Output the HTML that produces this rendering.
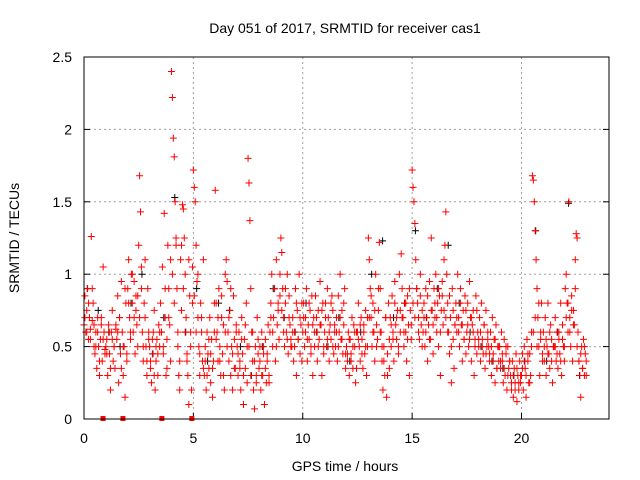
<!DOCTYPE html>
<html><head><meta charset="utf-8"><style>
html,body{margin:0;padding:0;background:#fff}
svg{display:block;font-family:"Liberation Sans",sans-serif}
</style></head><body>
<svg id="chart" width="640" height="480" viewBox="0 0 640 480">
<text x="345" y="33" font-size="14" text-anchor="middle" fill="#000">Day 051 of 2017, SRMTID for receiver cas1</text>
<text x="345" y="471" font-size="14" text-anchor="middle" fill="#000">GPS time / hours</text>
<text transform="translate(19,238) rotate(-90)" font-size="14" text-anchor="middle" fill="#000">SRMTID / TECUs</text>
<g id="grid"></g>
<g id="ticks"></g>
<g id="black"></g>
<g id="red"></g>
<rect x="84" y="57" width="525" height="362" fill="none" stroke="#000" stroke-width="1"/>
</svg>
<script>
const xTicks=[0,5,10,15,20];
const yTicks=[0,0.5,1,1.5,2,2.5];
const yTickLabels=["0","0.5","1","1.5","2","2.5"];
const redStart=0, redEnd=23;
const redValues=[
0.65,0.85,0.6,0.75,0.9,0.55,0.7,0.62,1.26,0.68,0.8,0.5,
0.45,0.6,0.35,0.7,0.5,0.3,0.55,0.65,0.4,1.05,0.6,0.48,
0.5,0.55,0.3,0.65,0.45,0.2,0.6,0.75,0.4,0.5,0.35,0.62,
0.55,0.85,0.25,0.7,0.45,0.95,0.6,0.3,0.5,0.15,0.8,0.4,
0.9,1.1,0.7,0.55,1.0,0.8,0.6,0.95,0.45,0.75,0.65,0.85,
1.2,1.68,1.43,1.05,0.6,0.4,0.8,0.7,0.5,0.3,0.9,0.55,
0.5,0.35,0.25,0.45,0.6,0.75,0.2,0.4,0.55,0.3,0.65,0.5,
0.8,0.6,1.05,0.45,1.42,0.7,0.3,0.55,1.2,0.9,0.65,0.4,
2.4,2.22,1.94,1.81,1.5,1.2,0.9,0.6,0.3,0.2,1.1,0.75,
1.48,1.45,1.25,1.0,0.7,0.45,0.3,0.1,0.85,0.6,0.2,1.05,
1.72,1.6,1.5,1.2,0.95,0.7,0.5,0.3,0.8,0.6,0.4,1.1,
0.3,0.5,0.2,0.6,0.45,0.35,0.7,0.25,0.55,0.15,0.4,0.8,
1.58,0.8,0.6,0.4,0.9,0.5,0.3,0.7,0.45,0.65,0.2,1.0,
1.1,0.95,0.6,0.4,0.75,0.3,0.5,0.2,0.85,0.55,0.35,0.65,
0.5,0.3,0.6,0.4,0.2,0.7,0.45,0.1,0.55,0.35,0.8,0.25,
1.8,1.63,1.37,0.9,0.6,0.4,0.2,0.07,0.5,0.3,0.7,0.45,
0.35,0.5,0.2,0.6,0.3,0.45,0.1,0.55,0.25,0.4,0.65,0.3,
0.6,0.8,1.0,0.5,0.7,0.9,0.4,1.1,0.65,0.75,0.55,0.85,
1.25,1.15,0.9,0.7,0.5,0.8,0.6,1.0,0.45,0.85,0.65,0.55,
0.5,0.7,0.4,0.6,0.9,0.3,0.75,0.55,1.0,0.45,0.65,0.8,
0.6,0.8,0.5,0.7,0.9,0.4,0.65,0.55,0.75,0.45,0.85,0.3,
0.7,0.5,0.85,0.6,0.4,0.75,0.55,0.95,0.65,0.3,0.8,0.5,
0.6,0.8,0.5,0.9,0.7,0.4,0.65,0.55,0.85,0.75,0.45,0.6,
0.5,0.7,0.4,0.85,0.6,1.0,0.55,0.75,0.45,0.65,0.9,0.35,
0.5,0.4,0.6,0.3,0.55,0.45,0.7,0.35,0.65,0.5,0.25,0.6,
0.6,0.8,0.5,0.4,0.7,0.55,0.35,0.65,0.45,0.75,0.3,0.5,
1.25,1.1,0.9,0.7,0.5,0.8,0.6,0.4,1.0,0.65,0.55,0.75,
1.22,0.9,0.6,0.4,0.2,0.5,0.3,0.7,0.15,0.45,0.8,0.35,
0.7,0.5,0.85,0.6,0.4,0.95,0.65,0.55,0.75,0.45,1.0,0.6,
1.14,0.9,0.7,0.5,0.8,0.6,0.4,0.85,0.65,0.3,0.75,0.55,
1.72,1.6,1.5,1.35,1.1,0.9,0.8,0.7,0.55,0.85,0.65,0.5,
0.6,0.8,0.5,0.9,0.7,0.4,0.65,0.95,0.55,1.25,0.75,0.45,
0.9,0.7,1.0,0.6,0.8,0.5,0.85,0.3,0.75,0.95,0.65,1.1,
1.2,1.43,1.0,0.8,0.6,0.45,0.7,0.25,0.9,0.55,0.35,0.65,
0.8,0.6,1.0,0.7,0.5,0.9,0.65,0.4,0.75,0.55,0.85,0.45,
0.6,0.8,0.5,0.95,0.7,0.4,0.65,0.75,0.3,0.55,0.85,0.45,
0.6,0.5,0.7,0.4,0.8,0.55,0.45,0.65,0.35,0.75,0.5,0.6,
0.5,0.4,0.6,0.3,0.7,0.45,0.55,0.25,0.65,0.35,0.5,0.4,
0.5,0.35,0.6,0.4,0.25,0.55,0.3,0.45,0.2,0.5,0.35,0.4,
0.3,0.2,0.4,0.15,0.35,0.25,0.45,0.12,0.3,0.2,0.4,0.25,
0.3,0.45,0.2,0.5,0.35,0.15,0.55,0.4,0.25,0.45,0.3,0.6,
1.68,1.65,1.5,1.3,1.1,0.9,0.7,0.5,0.3,0.6,0.8,0.45,
0.6,0.4,0.7,0.3,0.5,0.8,0.45,0.35,0.65,0.55,0.25,0.5,
0.5,0.7,0.4,0.6,0.35,0.55,0.45,0.8,0.3,0.65,0.5,0.4,
0.9,1.0,0.8,0.6,1.5,0.7,0.5,0.85,0.4,0.75,0.65,1.1,
1.28,1.25,0.6,0.4,0.3,0.15,0.5,0.35,0.55,0.3,0.45,0.4
];
const redCoreValues=[
0.7,0.6,0.8,0.55,0.9,0.65, 0.5,0.6,0.4,0.7,0.55,0.45,
0.45,0.6,0.35,0.55,0.5,0.65, 0.6,0.7,0.35,0.5,0.9,0.45,
0.8,0.6,1.0,0.7,0.85,0.5, 0.7,0.9,0.5,1.1,0.4,0.6,
0.4,0.55,0.3,0.5,0.45,0.6, 0.6,0.5,0.9,0.35,0.7,1.1,
1.0,0.8,1.25,0.5,0.4,1.2, 0.9,0.6,0.4,1.1,0.5,0.8,
0.85,0.6,1.0,0.45,0.7,0.35, 0.4,0.3,0.55,0.45,0.35,0.6,
0.55,0.7,0.4,0.85,0.3,0.6, 0.5,0.7,0.9,0.45,0.35,0.6,
0.45,0.35,0.55,0.3,0.65,0.5, 0.5,0.3,0.6,0.4,0.25,0.55,
0.4,0.3,0.5,0.35,0.45,0.25, 0.7,0.6,0.9,0.5,0.8,1.0,
0.75,0.6,0.9,0.55,0.7,0.5, 0.6,0.5,0.8,0.55,0.7,0.4,
0.7,0.6,0.55,0.8,0.5,0.65, 0.6,0.7,0.5,0.65,0.75,0.45,
0.7,0.55,0.6,0.8,0.5,0.65, 0.6,0.5,0.7,0.55,0.8,0.45,
0.45,0.55,0.4,0.5,0.6,0.35, 0.55,0.65,0.45,0.6,0.5,0.7,
0.7,0.85,0.6,0.75,0.5,0.9, 0.6,0.5,0.4,0.7,0.3,0.55,
0.65,0.55,0.8,0.7,0.5,0.75, 0.7,0.6,0.8,0.55,0.9,0.65,
0.8,0.7,0.9,0.6,1.0,0.75, 0.7,0.6,0.85,0.55,0.75,0.65,
0.8,0.7,0.9,0.6,0.85,0.75, 0.7,0.6,0.85,0.5,0.75,0.65,
0.7,0.6,0.8,0.65,0.55,0.75, 0.65,0.55,0.7,0.6,0.5,0.75,
0.55,0.6,0.5,0.65,0.45,0.55, 0.45,0.5,0.4,0.55,0.35,0.5,
0.4,0.45,0.35,0.5,0.3,0.4, 0.25,0.3,0.2,0.35,0.25,0.3,
0.35,0.4,0.3,0.45,0.25,0.5, 0.6,0.7,0.5,0.8,0.55,0.4,
0.5,0.55,0.45,0.6,0.4,0.5, 0.5,0.45,0.6,0.4,0.55,0.5,
0.7,0.8,0.6,0.75,0.65,0.9, 0.5,0.4,0.45,0.35,0.5,0.3
];
const blackValues=[0.9,0.75,0.6,0.5,0.8,1.0,0.45,0.7,1.53,0.6,0.9,0.4,0.8,0.75,0.5,0.3,0.5,0.9,0.7,0.6,0.8,0.6,0.5,0.7,0.4,0.6,1.0,1.23,0.7,0.8,1.3,0.7,0.9,1.2,0.8,0.6,0.5,0.4,0.35,0.3,0.4,1.3,0.4,0.6,1.49,0.3];
const flagTimes=[0.87,1.78,3.56,4.93];

const NS="http://www.w3.org/2000/svg";
const X0=84,X1=609,Y0=419,Y1=57,XMAX=24,YMAX=2.5;
function xs(v){return X0+(X1-X0)*v/XMAX;}
function ys(v){return Y0-(Y0-Y1)*v/YMAX;}
function mk(tag,attrs,parent){const e=document.createElementNS(NS,tag);for(const k in attrs)e.setAttribute(k,attrs[k]);parent.appendChild(e);return e;}
const grid=document.getElementById('grid'),ticks=document.getElementById('ticks');
xTicks.forEach(t=>{
  const x=xs(t);
  if(t>0){const g=mk('line',{x1:x,x2:x,y1:Y1,y2:Y0,stroke:'#a0a0a0','stroke-dasharray':'2,3'},grid);
  
  }
  const tl=mk('line',{x1:x,x2:x,y1:Y0,y2:Y0-6,stroke:'#000'},ticks);
  
  
  const tx=mk('text',{x:x,y:443,'font-size':14,'text-anchor':'middle',fill:'#000'},ticks);
  tx.textContent=String(t);
  
  
});
yTicks.forEach((t,i)=>{
  const y=ys(t);
  if(t>0&&t<YMAX){const g=mk('line',{x1:X0,x2:X1,y1:y,y2:y,stroke:'#a0a0a0','stroke-dasharray':'2,3'},grid);
  
  }
  const tl=mk('line',{x1:X0,x2:X0+6,y1:y,y2:y,stroke:'#000'},ticks);
  
  
  const tr=mk('line',{x1:X1,x2:X1-6,y1:y,y2:y,stroke:'#000'},ticks);
  
  
  const tx=mk('text',{x:72,y:y+5,'font-size':14,'text-anchor':'end',fill:'#000'},ticks);
  tx.textContent=yTickLabels[i];
  
  
});
function plus(g,t,v,color,name){
  const x=xs(t),y=ys(v);
  const p=mk('path',{d:'M'+(x-3.5)+','+y+'h7M'+x+','+(y-3.5)+'v7',stroke:color,'stroke-width':1,fill:'none'},g);
  
  
}
const bg=document.getElementById('black'),rg=document.getElementById('red');
blackValues.forEach((v,i)=>{plus(bg,redStart+(redEnd-redStart)*(i+0.3)/blackValues.length,v,'#000','black-point');});
redValues.forEach((v,i)=>{plus(rg,redStart+(redEnd-redStart)*i/redValues.length,v,'#f00','red-point');});
redCoreValues.forEach((v,i)=>{plus(rg,redStart+(redEnd-redStart)*(i+0.5)/redCoreValues.length,v,'#f00','red-point');});
flagTimes.forEach(t=>{
  const r=mk('rect',{x:xs(t)-2.5,y:Y0-3,width:5,height:5,fill:'#f00'},rg);
  
  
});
</script>
</body></html>
